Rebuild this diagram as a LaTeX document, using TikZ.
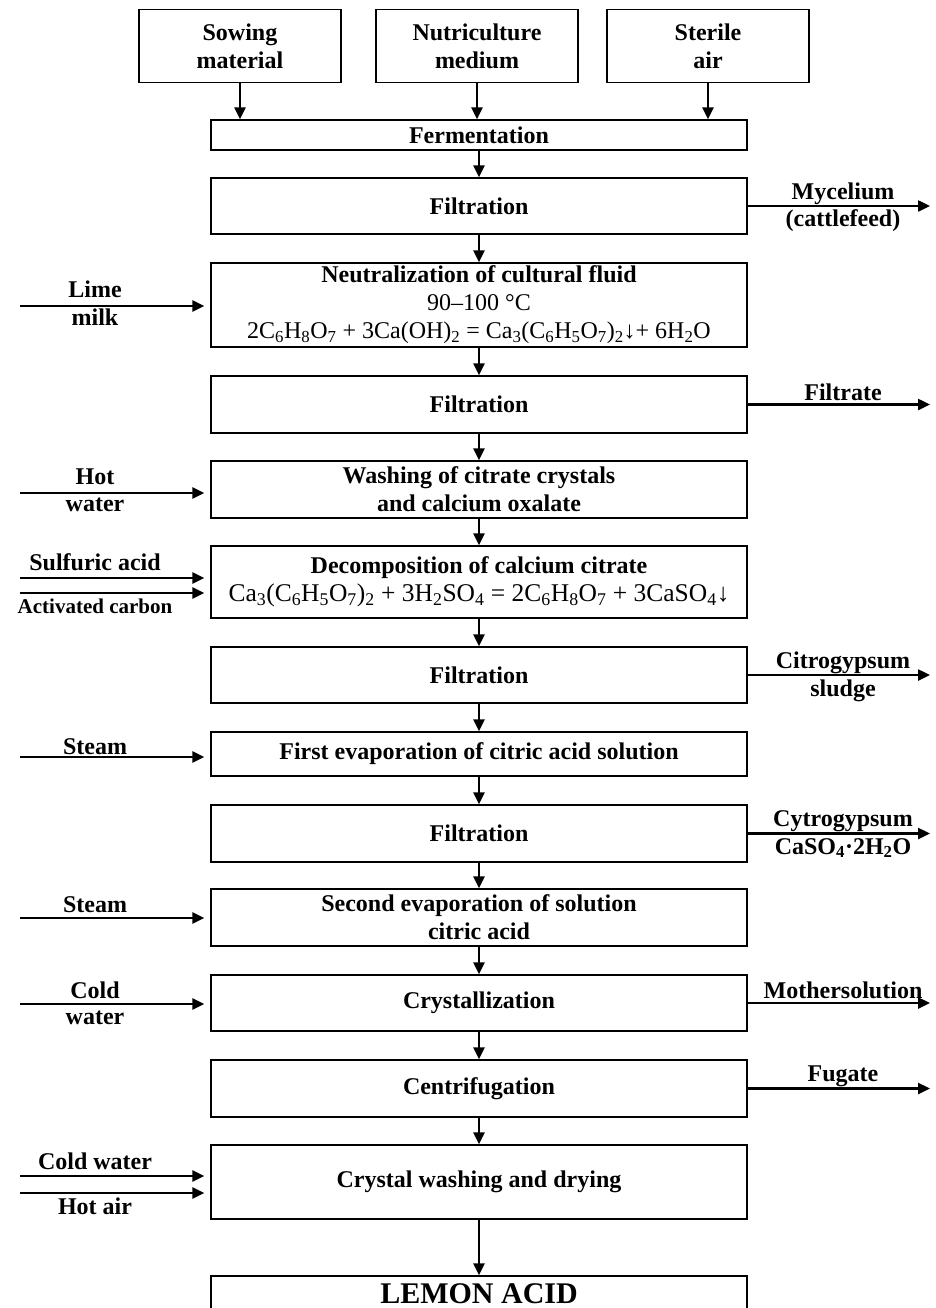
\documentclass[tikz,border=0pt]{standalone}
\usepackage{fontspec}
\setmainfont{Liberation Serif}
\usetikzlibrary{arrows.meta}

\tikzset{
  stage/.style={draw, line width=1.2pt, minimum width=536pt, inner sep=0pt,
    align=center, font=\bfseries\fontsize{24}{28}\selectfont},
  feed/.style={draw, line width=1.2pt, minimum width=202pt, minimum height=73pt,
    inner sep=0pt, align=center, font=\bfseries\fontsize{24}{28}\selectfont},
  lbl/.style={inner sep=0pt, align=center, font=\bfseries\fontsize{24}{28}\selectfont},
  flow/.style={line width=2.4pt, -{Triangle[length=12pt,width=11pt]}},
  inflow/.style={flow, shorten >=6pt}
}

\begin{document}
\begin{tikzpicture}[x=1pt,y=-1pt]
  \useasboundingbox (0,0) rectangle (935,1308);
  \clip (0,0) rectangle (935,1308);

  %# RAW MATERIALS
  \node[feed] (sow) at (240,46) {Sowing\\material};
  \node[feed] (nutr) at (477,46) {Nutriculture\\medium};
  \node[feed] (air) at (708,46) {Sterile\\air};

  %# PROCESS STAGES
  \node[stage, minimum height=30pt] (ferm) at (479,135) {Fermentation};
  \node[stage, minimum height=56pt] (filtA) at (479,206) {Filtration};
  \node[stage, minimum height=84pt] (neut) at (479,305)
    {Neutralization of cultural fluid\\
     \textmd{90--100 °C}\\
     \textmd{2C\textsubscript{6}H\textsubscript{8}O\textsubscript{7} + 3Ca(OH)\textsubscript{2} = Ca\textsubscript{3}(C\textsubscript{6}H\textsubscript{5}O\textsubscript{7})\textsubscript{2}↓+ 6H\textsubscript{2}O}};
  \node[stage, minimum height=57pt] (filtB) at (479,404.5) {Filtration};
  \node[stage, minimum height=57pt] (wash) at (479,489.5)
    {Washing of citrate crystals\\and calcium oxalate};
  \node[stage, minimum height=72pt] (decomp) at (479,582)
    {Decomposition of calcium citrate\\
     \textmd{\fontsize{25.5}{29}\selectfont Ca\textsubscript{3}(C\textsubscript{6}H\textsubscript{5}O\textsubscript{7})\textsubscript{2} + 3H\textsubscript{2}SO\textsubscript{4} = 2C\textsubscript{6}H\textsubscript{8}O\textsubscript{7} + 3CaSO\textsubscript{4}↓}};
  \node[stage, minimum height=56pt] (filtC) at (479,675) {Filtration};
  \node[stage, minimum height=44pt] (evapA) at (479,754)
    {First evaporation of citric acid solution};
  \node[stage, minimum height=57pt] (filtD) at (479,833.5) {Filtration};
  \node[stage, minimum height=57pt] (evapB) at (479,917.5)
    {Second evaporation of solution\\citric acid};
  \node[stage, minimum height=56pt] (cryst) at (479,1003) {Crystallization};
  \node[stage, minimum height=57pt] (centr) at (479,1088.5) {Centrifugation};
  \node[stage, minimum height=74pt] (dry) at (479,1182)
    {Crystal washing and drying};
  \node[stage, minimum height=36pt, font=\bfseries\fontsize{30}{36}\selectfont]
    (lemon) at (479,1294) {LEMON ACID};

  %# MAIN FLOW
  \foreach \a in {sow,nutr,air}
    \draw[flow] (\a.south) -- (\a.south |- ferm.north);
  \foreach \a/\b in {ferm/filtA,filtA/neut,neut/filtB,filtB/wash,wash/decomp,
      decomp/filtC,filtC/evapA,evapA/filtD,filtD/evapB,evapB/cryst,
      cryst/centr,centr/dry,dry/lemon}
    \draw[flow] (\a.south) -- (\b.north);

  %# INPUTS (LEFT)
  \coordinate (lime) at (20,306);
  \coordinate (hotw) at (20,493);
  \coordinate (sulf) at (20,578);
  \coordinate (carb) at (20,593);
  \coordinate (steamA) at (20,757);
  \coordinate (steamB) at (20,918);
  \coordinate (coldA) at (20,1004);
  \coordinate (coldB) at (20,1176);
  \coordinate (hota) at (20,1193);
  \draw[inflow] (lime) -- (lime -| neut.west);
  \draw[inflow] (hotw) -- (hotw -| wash.west);
  \draw[inflow] (sulf) -- (sulf -| decomp.west);
  \draw[inflow] (carb) -- (carb -| decomp.west);
  \draw[inflow] (steamA) -- (steamA -| evapA.west);
  \draw[inflow] (steamB) -- (steamB -| evapB.west);
  \draw[inflow] (coldA) -- (coldA -| cryst.west);
  \draw[inflow] (coldB) -- (coldB -| dry.west);
  \draw[inflow] (hota) -- (hota -| dry.west);

  \node[lbl] (limeT) at (95,289) {Lime};
  \node[lbl] (limeB) at (95,317) {milk};
  \node[lbl] (hotwT) at (95,477) {Hot};
  \node[lbl] (hotwB) at (95,505) {water};
  \node[lbl] (sulfT) at (95,562) {Sulfuric acid};
  \node[lbl, font=\bfseries\fontsize{21}{25}\selectfont] (carbB) at (95,606) {Activated carbon};
  \node[lbl] (steamAT) at (95,747) {Steam};
  \node[lbl] (steamBT) at (95,905) {Steam};
  \node[lbl] (coldAT) at (95,990) {Cold};
  \node[lbl] (coldAB) at (95,1018) {water};
  \node[lbl] (coldBT) at (95,1161) {Cold water};
  \node[lbl] (hotaB) at (95,1206) {Hot air};

  %# OUTPUTS (RIGHT)
  \coordinate (rim) at (930,0);
  \foreach \a in {filtA,filtB,filtC,filtD,cryst,centr}
    \draw[flow] (\a.east) -- (\a.east -| rim);

  \node[lbl] (mycT) at (843,194) {Mycelium};
  \node[lbl] (mycB) at (843,221) {(cattlefeed)};
  \node[lbl] (filtr) at (843,392) {Filtrate};
  \node[lbl] (citT) at (843,663) {Citrogypsum};
  \node[lbl] (citB) at (843,691) {sludge};
  \node[lbl] (cytT) at (843,821) {Cytrogypsum};
  \node[lbl] (cytB) at (843,848) {CaSO\textsubscript{4}·2H\textsubscript{2}O};
  \node[lbl] (moth) at (843,990) {Mothersolution};
  \node[lbl] (fug) at (843,1076) {Fugate};
\end{tikzpicture}
\end{document}
